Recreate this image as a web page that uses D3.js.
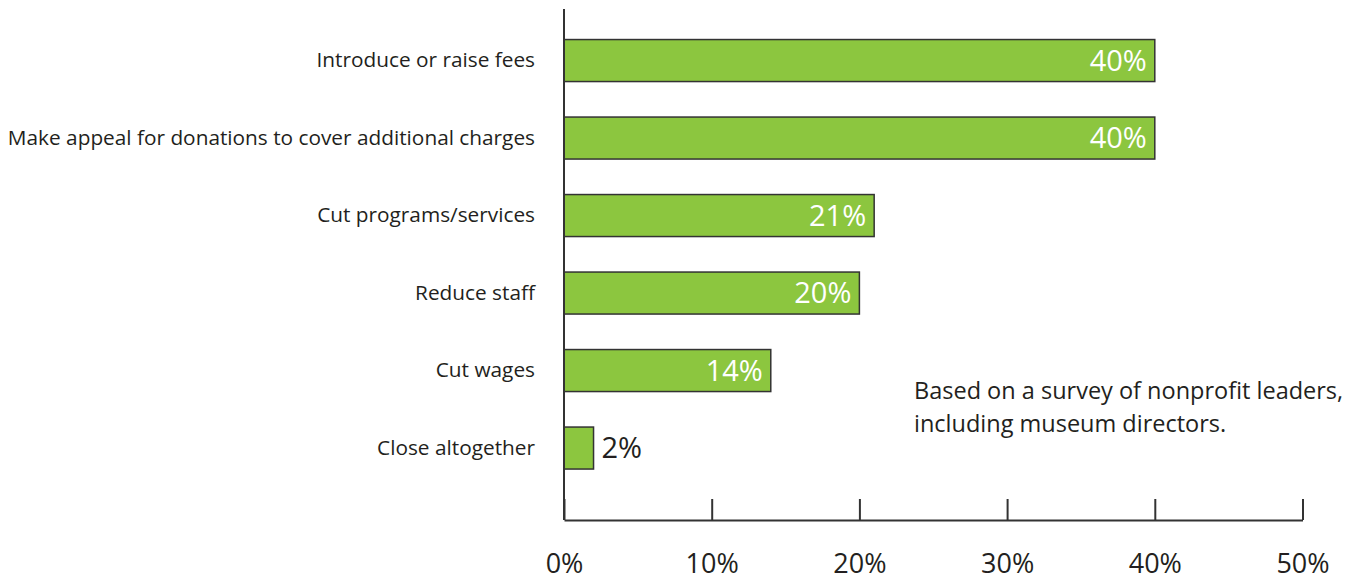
<!DOCTYPE html>
<html>
<head>
<meta charset="utf-8">
<script src="https://cdn.jsdelivr.net/npm/d3@7"></script>
<style>
  body { margin: 0; background: #fff; }
  text { font-family: "Open Sans", Lato, sans-serif; fill: #231f20; }
</style>
</head>
<body>
<svg width="1352" height="581"></svg>
<script>
const categories = [
    'Introduce or raise fees',
    'Make appeal for donations to cover additional charges',
    'Cut programs/services',
    'Reduce staff',
    'Cut wages',
    'Close altogether'
];
const values = [40, 40, 21, 20, 14, 2];
const tickValues = [0, 10, 20, 30, 40, 50];
const noteLines = ['Based on a survey of nonprofit leaders,', 'including museum directors.'];

const svg = d3.select('svg');

const x0 = 564, x1 = 1302.5;
const axisY = 520;

const xScale = d3.scaleLinear().domain([0, 50]).range([x0, x1]);
const yScale = d3.scaleBand().domain(categories).range([21.8, 486.8])
    .paddingInner(0.458).paddingOuter(0.229);

const data = categories.map((c, i) => ({ category: c, value: values[i] }));

// bars
svg.selectAll('rect.bar').data(data)
    .enter().append('rect')
    .attr('class', 'bar')
    .attr('x', xScale(0))
    .attr('y', d => yScale(d.category))
    .attr('width', d => xScale(d.value) - xScale(0))
    .attr('height', yScale.bandwidth())
    .attr('fill', '#8cc63f')
    .attr('stroke', '#333')
    .attr('stroke-width', 1.5);

// value labels
svg.selectAll('text.val').data(data)
    .enter().append('text')
    .attr('class', 'val')
    .attr('x', d => d.value < 5 ? xScale(d.value) + 8 : xScale(d.value) - 8)
    .attr('y', d => yScale(d.category) + yScale.bandwidth() / 2)
    .attr('dy', '0.35em')
    .attr('text-anchor', d => d.value < 5 ? 'start' : 'end')
    .style('font-size', '29px')
    .style('fill', d => d.value < 5 ? '#231f20' : '#fff')
    .text(d => d.value + '%');

// category labels
const yAxis = svg.append('g')
    .attr('transform', `translate(${x0},0)`)
    .call(d3.axisLeft(yScale).tickSize(0).tickPadding(29));
yAxis.select('.domain').remove();
yAxis.selectAll('text')
    .style('font-size', '20.8px')
    .attr('dy', '0.33em')
    .attr('font-family', null)
    .attr('fill', null);

// vertical axis line
svg.append('line')
    .attr('x1', x0).attr('x2', x0)
    .attr('y1', 9).attr('y2', axisY)
    .attr('stroke', '#333').attr('stroke-width', 2);

// bottom axis
const xAxis = svg.append('g')
    .attr('transform', `translate(0,${axisY})`)
    .call(d3.axisBottom(xScale).tickValues(tickValues).tickSize(-21).tickSizeOuter(0)
        .tickPadding(34).tickFormat(d => d + '%'));
xAxis.select('.domain').attr('stroke', '#333').attr('stroke-width', 2);
xAxis.selectAll('.tick line').attr('stroke', '#333').attr('stroke-width', 2);
xAxis.selectAll('.tick text')
    .style('font-size', '27px')
    .attr('font-family', null)
    .attr('fill', null);

// note
svg.append('text')
    .attr('x', 914)
    .attr('y', 399)
    .style('font-size', '23.5px')
    .selectAll('tspan').data(noteLines)
    .enter().append('tspan')
    .attr('x', 914)
    .attr('dy', (d, i) => i === 0 ? 0 : 32.5)
    .text(d => d);
</script>
</body>
</html>
